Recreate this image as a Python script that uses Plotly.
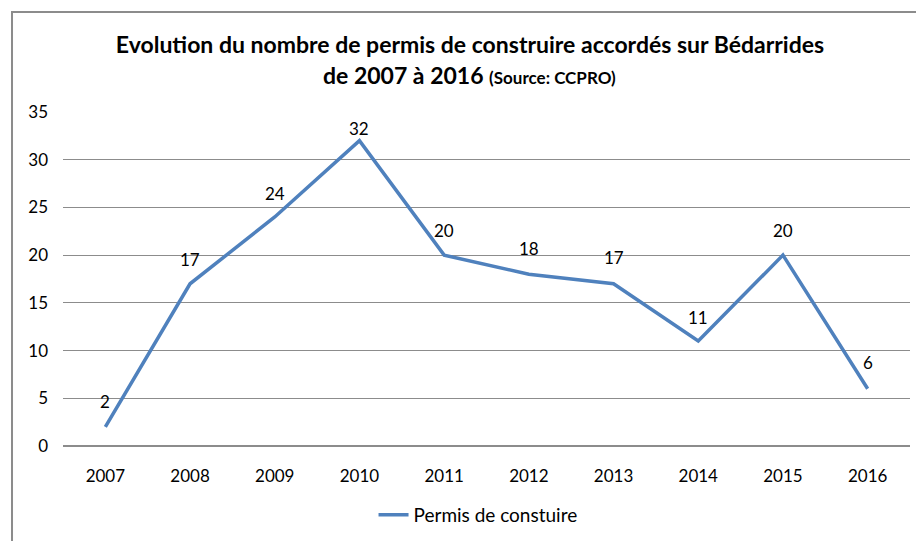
import plotly.graph_objects as go

years = ["2007", "2008", "2009", "2010", "2011", "2012", "2013", "2014", "2015", "2016"]
permis = [2, 17, 24, 32, 20, 18, 17, 11, 20, 6]
series_name = "Permis de constuire"
y_ticks = [0, 5, 10, 15, 20, 25, 30, 35]

# label offsets in px (styling, not data)
label_shift = [25, 24, 23, 12, 25, 26, 26, 24, 25, 26]

FONT = "Lato, Open Sans, sans-serif"
GRID = "#8C8C8C"

fig = go.Figure()
fig.add_trace(go.Scatter(
    x=years, y=permis, mode="lines", name=series_name,
    line=dict(color="#4F81BD", width=3.5),
))

annotations = [
    dict(x=i, y=v, xref="x", yref="y", text=str(v), showarrow=False,
         yshift=s, xanchor="center", yanchor="middle",
         font=dict(size=17, family=FONT, color="#000000"))
    for i, (v, s) in enumerate(zip(permis, label_shift))
]
annotations.append(dict(
    text="<b>de 2007 à 2016 <span style='font-size:17px'>(Source: CCPRO)</span></b>",
    xref="paper", yref="paper", x=0.4805, y=(438 - 67) / 334,
    xanchor="center", yanchor="middle", showarrow=False,
    font=dict(size=23, family=FONT, color="#000000"),
))

fig.update_layout(
    width=916, height=533,
    margin=dict(l=55, r=14, t=104, b=95, autoexpand=False),
    paper_bgcolor="white", plot_bgcolor="white",
    font=dict(family=FONT, size=17, color="#000000"),
    title=dict(
        text="<b>Evolution du nombre de permis de construire accordés sur Bédarrides</b>",
        x=462 / 916, xanchor="center", y=1 - 37 / 533, yanchor="middle",
        font=dict(size=23, family=FONT, color="#000000"),
    ),
    showlegend=True,
    legend=dict(orientation="h", x=0.49, xanchor="center", y=-0.2066, yanchor="middle",
                font=dict(size=19, family=FONT)),
    xaxis=dict(type="category", categoryorder="array", categoryarray=years,
               range=[-0.5, len(years) - 0.5], autorange=False, automargin=False,
               showgrid=False, showline=False, ticks="",
               tickfont=dict(size=17), ticklabelstandoff=18),
    yaxis=dict(range=[0, 35], tickvals=y_ticks, showgrid=True, gridcolor=GRID,
               gridwidth=1, zeroline=True, zerolinecolor=GRID, zerolinewidth=2,
               automargin=False,
               showline=False, ticks="", tickfont=dict(size=17), ticklabelstandoff=14),
    annotations=annotations,
    shapes=[dict(type="rect", xref="paper", yref="paper",
                 x0=-0.0602, x1=1.2, y0=-0.6, y1=1.2994,
                 line=dict(color=GRID, width=2), fillcolor="rgba(0,0,0,0)",
                 layer="below")],
)

fig.write_html("out.html")
